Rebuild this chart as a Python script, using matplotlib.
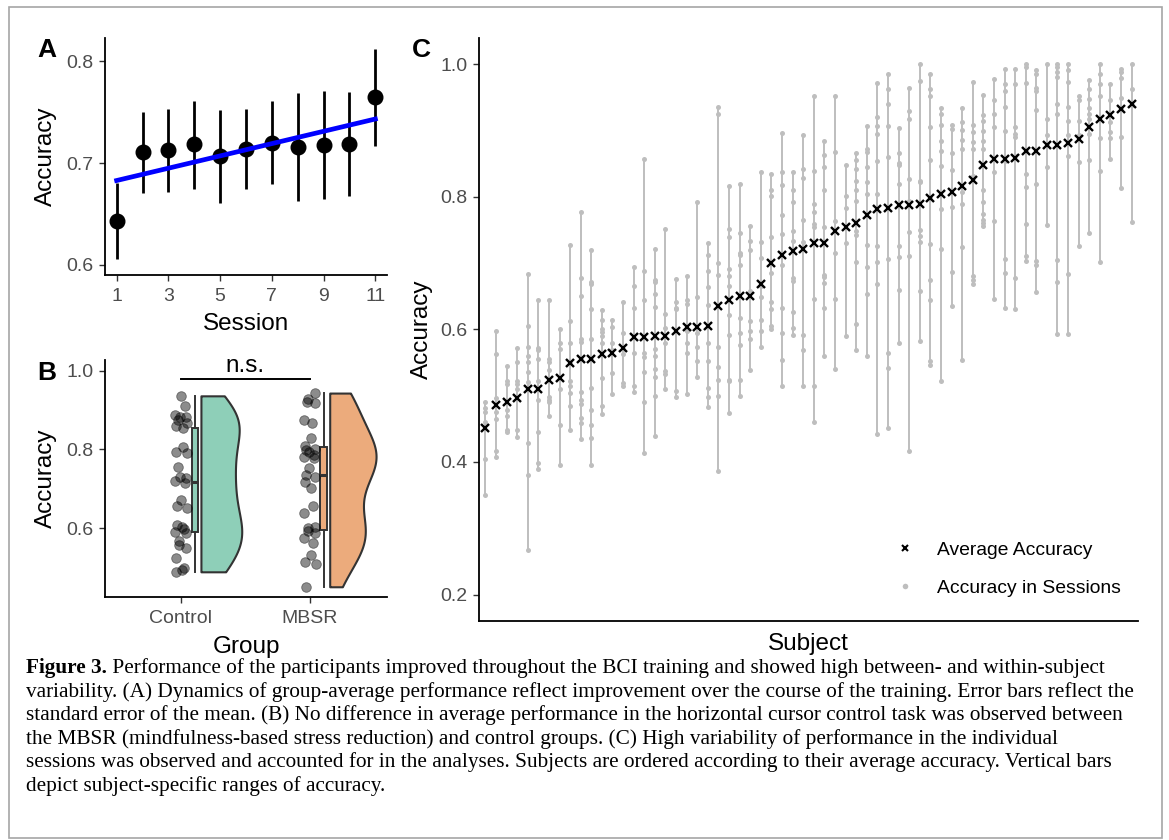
import numpy as np
import matplotlib
matplotlib.use("Agg")
import matplotlib.pyplot as plt
from matplotlib.lines import Line2D
from matplotlib.patches import Rectangle
from matplotlib.text import Annotation

plt.rcParams['font.family'] = ['Liberation Sans', 'DejaVu Sans']

# ---- panel A: group average per session ----
sessions = np.arange(1, 12)
sess_mean = [0.643, 0.711, 0.7125, 0.719, 0.707, 0.714, 0.720, 0.716, 0.718, 0.719, 0.765]
sess_lo = [0.606, 0.671, 0.672, 0.675, 0.661, 0.675, 0.679, 0.663, 0.665, 0.668, 0.717]
sess_hi = [0.680, 0.750, 0.753, 0.761, 0.752, 0.753, 0.761, 0.769, 0.771, 0.770, 0.8125]

# ---- panel B: average accuracy per subject by group ----
groups = ['Control', 'MBSR']
control_acc = [0.936, 0.909, 0.887, 0.883, 0.881, 0.875, 0.866, 0.860, 0.854, 0.807,
               0.794, 0.790, 0.754, 0.731, 0.726, 0.720, 0.714, 0.672, 0.655, 0.650,
               0.608, 0.604, 0.597, 0.591, 0.587, 0.566, 0.557, 0.549, 0.523, 0.498,
               0.494, 0.489]
mbsr_acc = [0.943, 0.927, 0.921, 0.917, 0.875, 0.866, 0.828, 0.808, 0.802, 0.799,
            0.794, 0.786, 0.780, 0.777, 0.752, 0.734, 0.731, 0.718, 0.701, 0.655,
            0.638, 0.604, 0.599, 0.592, 0.588, 0.574, 0.561, 0.532, 0.515, 0.510,
            0.451]

# ---- panel C: subjects ordered by average accuracy ----
avg_acc = [0.452, 0.486, 0.490, 0.497, 0.510, 0.510, 0.524, 0.527, 0.549, 0.556,
           0.556, 0.563, 0.565, 0.572, 0.589, 0.589, 0.590, 0.590, 0.598, 0.604,
           0.604, 0.606, 0.635, 0.644, 0.650, 0.650, 0.669, 0.701, 0.712, 0.718,
           0.722, 0.730, 0.731, 0.748, 0.755, 0.760, 0.773, 0.782, 0.783, 0.788,
           0.788, 0.790, 0.799, 0.804, 0.807, 0.817, 0.826, 0.848, 0.857, 0.858,
           0.859, 0.870, 0.870, 0.879, 0.879, 0.882, 0.887, 0.906, 0.917, 0.924,
           0.933, 0.940]
session_acc = [
    [0.490, 0.482, 0.475, 0.461, 0.405, 0.350],
    [0.598, 0.563, 0.496, 0.476, 0.465, 0.417, 0.407],
    [0.545, 0.523, 0.518, 0.479, 0.470, 0.448, 0.445],
    [0.572, 0.551, 0.523, 0.518, 0.510, 0.448, 0.438],
    [0.684, 0.605, 0.573, 0.560, 0.551, 0.536, 0.521, 0.429, 0.380, 0.267],
    [0.644, 0.572, 0.569, 0.555, 0.523, 0.493, 0.445, 0.399, 0.390],
    [0.644, 0.556, 0.551, 0.539, 0.498, 0.494, 0.491, 0.470],
    [0.601, 0.579, 0.570, 0.510, 0.456, 0.395],
    [0.728, 0.613, 0.580, 0.549, 0.523, 0.514, 0.504, 0.484, 0.448],
    [0.777, 0.678, 0.651, 0.585, 0.581, 0.555, 0.506, 0.493, 0.487, 0.466, 0.459, 0.435],
    [0.720, 0.671, 0.669, 0.631, 0.586, 0.556, 0.512, 0.478, 0.456, 0.436, 0.396],
    [0.629, 0.614, 0.600, 0.596, 0.590, 0.580, 0.527, 0.485, 0.472],
    [0.615, 0.604, 0.580, 0.569, 0.535, 0.503],
    [0.642, 0.594, 0.570, 0.563, 0.519, 0.514],
    [0.695, 0.666, 0.632, 0.564, 0.515, 0.506],
    [0.857, 0.688, 0.644, 0.564, 0.559, 0.536, 0.490, 0.414],
    [0.721, 0.674, 0.671, 0.653, 0.634, 0.571, 0.560, 0.541, 0.529, 0.500, 0.439],
    [0.752, 0.623, 0.603, 0.580, 0.538, 0.533, 0.510],
    [0.676, 0.642, 0.633, 0.631, 0.507, 0.498],
    [0.680, 0.645, 0.639, 0.597, 0.579, 0.564, 0.503],
    [0.792, 0.649, 0.594, 0.573, 0.552, 0.529],
    [0.730, 0.713, 0.689, 0.664, 0.637, 0.579, 0.553, 0.511, 0.498, 0.483],
    [0.936, 0.925, 0.700, 0.682, 0.573, 0.544, 0.524, 0.500, 0.386],
    [0.817, 0.752, 0.739, 0.691, 0.680, 0.666, 0.622, 0.591, 0.524, 0.523, 0.474],
    [0.820, 0.746, 0.716, 0.712, 0.697, 0.617, 0.595, 0.576, 0.524, 0.500],
    [0.756, 0.734, 0.720, 0.658, 0.613, 0.597, 0.586, 0.539],
    [0.838, 0.732, 0.708, 0.666, 0.649, 0.615, 0.597, 0.574],
    [0.835, 0.811, 0.801, 0.739, 0.686, 0.642, 0.631, 0.605, 0.601],
    [0.896, 0.838, 0.818, 0.773, 0.744, 0.698, 0.633, 0.594, 0.554, 0.515],
    [0.838, 0.810, 0.792, 0.748, 0.733, 0.678, 0.673, 0.626, 0.603, 0.592],
    [0.894, 0.843, 0.829, 0.766, 0.732, 0.591, 0.569, 0.515],
    [0.953, 0.839, 0.789, 0.778, 0.759, 0.755, 0.646, 0.514, 0.461],
    [0.885, 0.864, 0.845, 0.811, 0.755, 0.682, 0.679, 0.670, 0.633, 0.560],
    [0.952, 0.868, 0.764, 0.715, 0.646, 0.541],
    [0.849, 0.802, 0.784, 0.730, 0.590],
    [0.867, 0.856, 0.843, 0.824, 0.811, 0.794, 0.749, 0.743, 0.702, 0.608, 0.569],
    [0.907, 0.872, 0.868, 0.846, 0.822, 0.804, 0.727, 0.694, 0.653, 0.560],
    [0.972, 0.921, 0.907, 0.895, 0.854, 0.805, 0.726, 0.702, 0.669, 0.442],
    [0.985, 0.963, 0.941, 0.907, 0.860, 0.707, 0.564, 0.542, 0.452],
    [0.904, 0.867, 0.851, 0.849, 0.819, 0.726, 0.709, 0.659, 0.580],
    [0.965, 0.930, 0.918, 0.827, 0.794, 0.747, 0.711, 0.416],
    [1.000, 0.975, 0.824, 0.822, 0.750, 0.741, 0.732, 0.658, 0.583],
    [0.985, 0.963, 0.952, 0.905, 0.856, 0.800, 0.729, 0.674, 0.645, 0.552, 0.546],
    [0.934, 0.926, 0.908, 0.884, 0.869, 0.847, 0.782, 0.721, 0.522],
    [0.908, 0.902, 0.867, 0.841, 0.785, 0.687, 0.635],
    [0.934, 0.913, 0.901, 0.886, 0.873, 0.808, 0.789, 0.724, 0.554],
    [0.973, 0.908, 0.898, 0.883, 0.873, 0.832, 0.829, 0.680, 0.675, 0.669],
    [0.954, 0.924, 0.915, 0.900, 0.885, 0.873, 0.811, 0.792, 0.774, 0.766, 0.760, 0.756],
    [0.978, 0.946, 0.926, 0.905, 0.838, 0.764, 0.646],
    [0.993, 0.970, 0.960, 0.936, 0.899, 0.855, 0.707, 0.685, 0.632],
    [0.993, 0.970, 0.905, 0.895, 0.891, 0.862, 0.678, 0.631],
    [1.000, 0.996, 0.972, 0.869, 0.835, 0.815, 0.759, 0.711, 0.704],
    [0.992, 0.985, 0.964, 0.960, 0.932, 0.820, 0.704, 0.698, 0.656],
    [1.000, 0.918, 0.893, 0.880, 0.845, 0.758],
    [1.000, 0.996, 0.988, 0.981, 0.941, 0.926, 0.705, 0.672, 0.593],
    [1.000, 0.992, 0.974, 0.936, 0.915, 0.894, 0.862, 0.684, 0.593],
    [0.952, 0.946, 0.915, 0.893, 0.853, 0.726],
    [0.976, 0.963, 0.948, 0.934, 0.926, 0.917, 0.895, 0.856, 0.745],
    [1.000, 0.985, 0.970, 0.952, 0.889, 0.839, 0.702],
    [0.970, 0.946, 0.913, 0.898, 0.889, 0.857],
    [0.993, 0.988, 0.980, 0.949, 0.934, 0.890, 0.814],
    [1.000, 0.963, 0.939, 0.763],
]

caption_lines = [
    "Performance of the participants improved throughout the BCI training and showed high between- and within-subject",
    "variability. (A) Dynamics of group-average performance reflect improvement over the course of the training. Error bars reflect the",
    "standard error of the mean. (B) No difference in average performance in the horizontal cursor control task was observed between",
    "the MBSR (mindfulness-based stress reduction) and control groups. (C) High variability of performance in the individual",
    "sessions was observed and accounted for in the analyses. Subjects are ordered according to their average accuracy. Vertical bars",
    "depict subject-specific ranges of accuracy.",
]

W, H = 1169, 840
fig = plt.figure(figsize=(W / 100, H / 100), dpi=100)


def px_axes(x0, y0, x1, y1):
    return fig.add_axes([x0 / W, 1 - y1 / H, (x1 - x0) / W, (y1 - y0) / H])


def classic(ax):
    for s in ['top', 'right']:
        ax.spines[s].set_visible(False)
    for s in ['left', 'bottom']:
        ax.spines[s].set_linewidth(1.3)
        ax.spines[s].set_color('black')
    ax.tick_params(colors='#333333', labelcolor='#4d4d4d', labelsize=14,
                   length=4, width=1.0)
    ax.tick_params(axis='x', pad=5.5)
    ax.tick_params(axis='y', pad=4.5)


TITLE_FS = 17.5

# ---------------- A ----------------
axA = px_axes(105, 38, 387, 275)
classic(axA)
axA.vlines(sessions, sess_lo, sess_hi, color='black', lw=2.0, zorder=2)
axA.plot(sessions, sess_mean, 'o', color='black', ms=10.5, zorder=3)
coef = np.polyfit(sessions, sess_mean, 1)
axA.plot(sessions[[0, -1]], np.polyval(coef, sessions[[0, -1]]), color='#0000ff', lw=3.4, zorder=4)
axA.set_xlim(0.55, 11.45)
axA.set_ylim(0.59, 0.823)
axA.set_xticks([1, 3, 5, 7, 9, 11])
axA.set_yticks([0.6, 0.7, 0.8])
axA.set_yticklabels(['0.6', '0.7', '0.8'])
axA.set_xlabel('Session', fontsize=TITLE_FS)
axA.set_ylabel('Accuracy', fontsize=TITLE_FS)
axA.yaxis.set_label_coords(-0.17, 0.5)
axA.xaxis.set_label_coords(0.5, -0.16)

# ---------------- B ----------------
axB = px_axes(105, 360, 387, 597)
classic(axB)
group_data = [control_acc, mbsr_acc]
fills = ['#8ecfb8', '#ecab7c']
edge = '#333333'


def nrd0(x):
    x = np.asarray(x)
    q75, q25 = np.percentile(x, [75, 25])
    return 0.9 * min(np.std(x, ddof=1), (q75 - q25) / 1.34) * len(x) ** -0.2


dens_list = []
for vals in group_data:
    vals = np.asarray(vals)
    bw = nrd0(vals)
    grid = np.linspace(vals.min(), vals.max(), 200)
    d = np.exp(-0.5 * ((grid[:, None] - vals[None, :]) / bw) ** 2).sum(1) / (len(vals) * bw * np.sqrt(2 * np.pi))
    dens_list.append((grid, d))
dmax = max(d.max() for _, d in dens_list)

for i, (vals, (grid, d)) in enumerate(zip(group_data, dens_list)):
    pos = i + 1
    axB.fill_betweenx(grid, pos + 0.155, pos + 0.155 + 0.36 * d / dmax,
                      facecolor=fills[i], edgecolor=edge, lw=1.5, zorder=2)
    n = len(vals)
    jit = 0.045 * np.sin(np.arange(n) * 2.39996 + i)
    axB.scatter(pos + jit, vals, s=48, color='black', alpha=0.45, edgecolors='black',
                linewidths=0.6, zorder=3)
    bp = axB.boxplot([vals], positions=[pos + 0.108], widths=0.052, patch_artist=True,
                     showfliers=False, showcaps=False, manage_ticks=False)
    for b in bp['boxes']:
        b.set(facecolor=fills[i], edgecolor=edge, linewidth=1.4)
    for w in bp['whiskers']:
        w.set(color=edge, linewidth=1.4)
    for m in bp['medians']:
        m.set(color=edge, linewidth=2.2)

axB.plot([1, 2], [0.979, 0.979], color='black', lw=1.4)
axB.text(1.5, 0.983, 'n.s.', ha='center', va='bottom', fontsize=TITLE_FS)
axB.set_xlim(0.41, 2.6)
axB.set_ylim(0.425, 1.027)
axB.set_xticks([1, 2])
axB.set_xticklabels(groups)
axB.set_yticks([0.6, 0.8, 1.0])
axB.set_yticklabels(['0.6', '0.8', '1.0'])
axB.set_xlabel('Group', fontsize=TITLE_FS)
axB.set_ylabel('Accuracy', fontsize=TITLE_FS)
axB.yaxis.set_label_coords(-0.17, 0.5)
axB.xaxis.set_label_coords(0.5, -0.165)

# ---------------- C ----------------
axC = px_axes(479, 38, 1138, 621)
classic(axC)
subj = np.arange(1, len(avg_acc) + 1)
GREY = '#bebebe'
mins = [min(s) for s in session_acc]
maxs = [max(s) for s in session_acc]
axC.vlines(subj, mins, maxs, color=GREY, lw=1.4, zorder=1)
xs = np.concatenate([[k] * len(s) for k, s in zip(subj, session_acc)])
ys = np.concatenate(session_acc)
axC.plot(xs, ys, 'o', color=GREY, ms=3.6, mec='none', zorder=2)
axC.plot(subj, avg_acc, 'x', color='black', ms=5.5, mew=1.7, zorder=3)
axC.set_xlim(0.4, len(avg_acc) + 0.6)
axC.set_ylim(0.16, 1.04)
axC.set_xticks([])
axC.set_yticks([0.2, 0.4, 0.6, 0.8, 1.0])
axC.set_yticklabels(['0.2', '0.4', '0.6', '0.8', '1.0'])
axC.set_xlabel('Subject', fontsize=TITLE_FS)
axC.set_ylabel('Accuracy', fontsize=TITLE_FS)
axC.yaxis.set_label_coords(-0.07, 0.5)
axC.xaxis.set_label_coords(0.5, -0.02)
handles = [Line2D([], [], ls='none', marker='x', color='black', ms=5, mew=1.5),
           Line2D([], [], ls='none', marker='o', color=GREY, ms=4, mec='none')]
axC.legend(handles, ['Average Accuracy', 'Accuracy in Sessions'], loc='center left',
           bbox_to_anchor=((893 - 479) / 659, 1 - (569 - 38) / 583), frameon=False,
           fontsize=13.9, handlelength=1.2, handletextpad=1.1, labelspacing=1.05,
           borderpad=0, borderaxespad=0)

# panel letters
for lab, x, y in [('A', 37, 38), ('B', 37, 361), ('C', 412, 38)]:
    fig.text(x / W, 1 - y / H, lab, fontsize=19, fontweight='bold', va='top', ha='left')

# frame round the figure
fig.add_artist(Rectangle((9 / W, 1 - 838 / H), (1162 - 9) / W, (838 - 7) / H,
                         transform=fig.transFigure, fill=False, edgecolor='#a6a6a6', lw=1.2))

# caption
cap_fs = 15.3
y0, dy = 668, 23.6
serif = ['Liberation Serif', 'DejaVu Serif']
t1 = fig.text(26 / W, 1 - y0 / H, 'Figure 3.', fontsize=cap_fs, fontweight='bold',
              family=serif, va='center', ha='left')
fig.add_artist(Annotation(' ' + caption_lines[0], xy=(1, 0.5), xycoords=t1, va='center',
                          ha='left', fontsize=cap_fs, family=serif))
for k, line in enumerate(caption_lines[1:], start=1):
    fig.text(26 / W, 1 - (y0 + k * dy) / H, line, fontsize=cap_fs, family=serif,
             va='center', ha='left')

fig.savefig('out.png', dpi=100)
